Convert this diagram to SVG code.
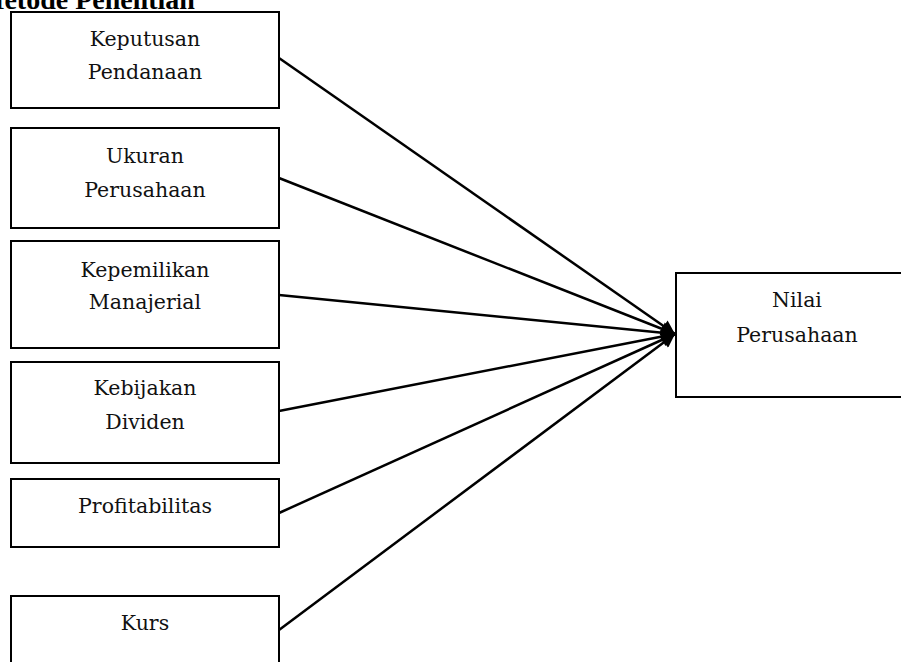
<svg xmlns="http://www.w3.org/2000/svg" width="901" height="662" viewBox="0 0 901 662">
<style>
.box{fill:#fff;stroke:#000;stroke-width:2}
.lbl{font-family:"DejaVu Serif","Liberation Serif",serif;font-size:20.5px;fill:#111;text-anchor:middle}
.conn{stroke:#000;stroke-width:2.5;fill:none;marker-end:url(#ah)}
</style>
<defs>
<marker id="ah" viewBox="0 0 10 10" refX="10" refY="5" markerWidth="6.5" markerHeight="5.5" orient="auto" markerUnits="strokeWidth">
<path d="M0,0 L10,5 L0,10 z" fill="#000"/>
</marker>
</defs>
<rect width="901" height="662" fill="#fff"/>
<text x="-22" y="8.5" font-family="Liberation Serif, serif" font-weight="bold" font-size="28" fill="#000">Metode Penelitian</text>
<g id="n1"><rect class="box" x="11" y="12" width="268" height="96"/><text class="lbl" x="145" y="46">Keputusan</text><text class="lbl" x="145" y="79">Pendanaan</text></g>
<g id="n2"><rect class="box" x="11" y="128" width="268" height="100"/><text class="lbl" x="145" y="163">Ukuran</text><text class="lbl" x="145" y="197">Perusahaan</text></g>
<g id="n3"><rect class="box" x="11" y="241" width="268" height="107"/><text class="lbl" x="145" y="277">Kepemilikan</text><text class="lbl" x="145" y="309">Manajerial</text></g>
<g id="n4"><rect class="box" x="11" y="362" width="268" height="101"/><text class="lbl" x="145" y="395">Kebijakan</text><text class="lbl" x="145" y="429">Dividen</text></g>
<g id="n5"><rect class="box" x="11" y="479" width="268" height="68"/><text class="lbl" x="145" y="513">Profitabilitas</text></g>
<g id="n6"><rect class="box" x="11" y="596" width="268" height="80"/><text class="lbl" x="145" y="630">Kurs</text></g>
<g id="n7"><rect class="box" x="676" y="273" width="240" height="124"/><text class="lbl" x="797" y="307">Nilai</text><text class="lbl" x="797" y="342">Perusahaan</text></g>
<g id="connectors">
<line class="conn" x1="279" y1="58" x2="675" y2="334"/>
<line class="conn" x1="279" y1="178" x2="675" y2="334"/>
<line class="conn" x1="279" y1="295" x2="675" y2="334"/>
<line class="conn" x1="279" y1="411" x2="675" y2="334"/>
<line class="conn" x1="279" y1="513" x2="675" y2="334"/>
<line class="conn" x1="279" y1="630" x2="675" y2="334"/>
</g>
</svg>
